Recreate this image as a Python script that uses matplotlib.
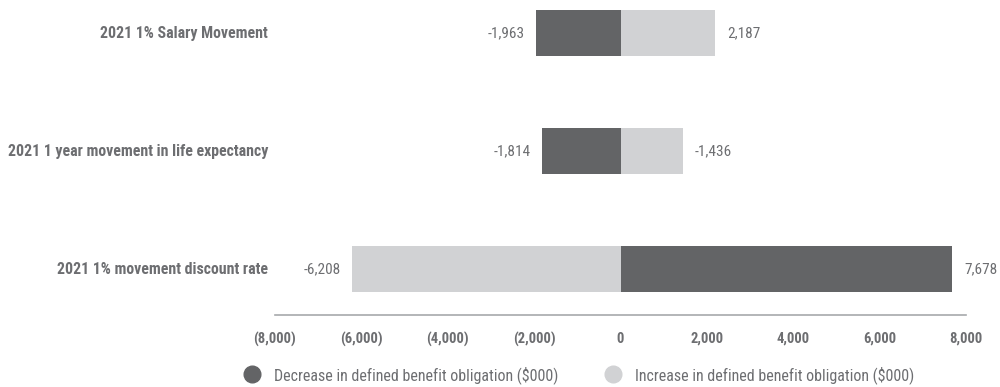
"""Sensitivity of defined benefit obligation, tornado-style bar chart."""

import matplotlib
matplotlib.use("Agg")
import matplotlib.pyplot as plt
from matplotlib.lines import Line2D

# data
categories = [
    "2021 1% movement discount rate",
    "2021 1 year movement in life expectancy",
    "2021 1% Salary Movement",
]
decrease = [7678, -1814, -1963]
increase = [-6208, 1436, 2187]
decrease_labels = ["7,678", "-1,814", "-1,963"]
increase_labels = ["-6,208", "-1,436", "2,187"]
xticks = [-8000, -6000, -4000, -2000, 0, 2000, 4000, 6000, 8000]
xtick_labels = ["(8,000)", "(6,000)", "(4,000)", "(2,000)", "0",
                "2,000", "4,000", "6,000", "8,000"]
legend_names = ["Decrease in defined benefit obligation ($000)",
                "Increase in defined benefit obligation ($000)"]

DARK = "#636466"
LIGHT = "#d1d2d4"
TEXT = "#6d6e71"

plt.rcParams["font.family"] = ["Roboto Condensed", "DejaVu Sans"]

fig = plt.figure(figsize=(10, 3.87), dpi=100)
ax = fig.add_axes([0.275, 0.186, 0.691, 0.814])

y = list(range(len(categories)))
ax.barh(y, decrease, height=0.39, color=DARK)
ax.barh(y, increase, height=0.39, color=LIGHT)

for series, texts in ((decrease, decrease_labels), (increase, increase_labels)):
    for yi, v, t in zip(y, series, texts):
        off = 9 if v > 0 else -8
        ax.annotate(t, (v, yi), xytext=(off, 0), textcoords="offset points",
                    ha="left" if v > 0 else "right", va="center",
                    fontsize=11, color=TEXT)

for yi, c in zip(y, categories):
    ax.annotate(c, (0, yi), xycoords=("axes fraction", "data"),
                xytext=(-5, 0), textcoords="offset points",
                ha="right", va="center", fontsize=11.4,
                fontweight="bold", color=TEXT)

ax.set_xlim(-8000, 8000)
ax.set_ylim(-0.39, 2.28)
ax.set_xticks(xticks)
ax.set_xticklabels(xtick_labels, fontsize=10.5, fontweight="bold", color=TEXT)
ax.set_yticks([])
ax.tick_params(axis="x", length=0, pad=12)
for s in ("top", "right", "left"):
    ax.spines[s].set_visible(False)
ax.spines["bottom"].set_color("#a7a9ac")
ax.spines["bottom"].set_linewidth(1.2)

handles = [Line2D([], [], marker="o", linestyle="", markersize=12,
                  markerfacecolor=c, markeredgecolor=c) for c in (DARK, LIGHT)]
leg = fig.legend(handles, legend_names, loc="center", ncol=2,
                 bbox_to_anchor=(0.575, 0.031), frameon=False,
                 fontsize=11.5, handletextpad=0.4, columnspacing=2.4)
for t in leg.get_texts():
    t.set_color(TEXT)

fig.savefig("out.png", dpi=100)
